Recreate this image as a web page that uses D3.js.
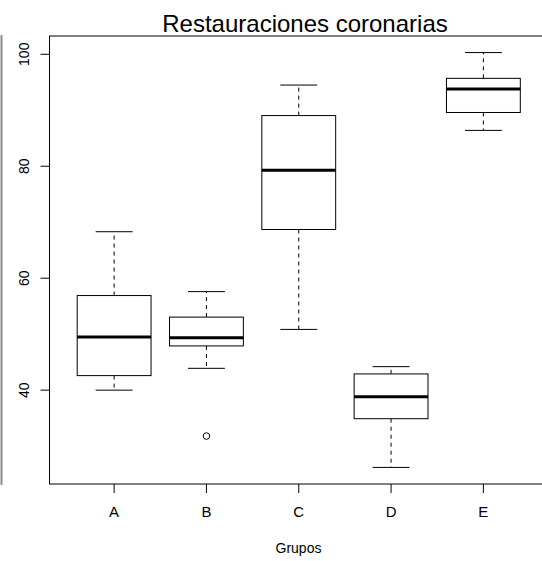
<!DOCTYPE html>
<html>
<head>
<meta charset="utf-8">
<script src="https://cdn.jsdelivr.net/npm/d3@7"></script>
<style>
  body { margin: 0; background: #fff; }
  svg { display: block; font-family: "Liberation Sans", Arial, sans-serif; }
</style>
</head>
<body>
<svg id="chart"></svg>
<script>
const groups = ["A", "B", "C", "D", "E"];
const lowerWhisker = [40.0, 43.9, 50.85, 26.2, 86.4];
const q1 = [42.6, 47.9, 68.7, 34.9, 89.6];
const median = [49.5, 49.35, 79.3, 38.8, 93.8];
const q3 = [56.9, 53.05, 89.05, 42.9, 95.7];
const upperWhisker = [68.3, 57.6, 94.5, 44.2, 100.3];
const outliers = [{ group: "B", value: 31.8 }];
const yTicks = [40, 60, 80, 100];

const width = 542;
const height = 561;
const svg = d3.select("#chart")
              .attr("width", width)
              .attr("height", height);

const plot = { left: 49.5, top: 36, bottom: 484, right: 548 };

// R style: data range padded by 4%
const allVals = lowerWhisker.concat(upperWhisker, outliers.map(d => d.value));
const lo = d3.min(allVals), hi = d3.max(allVals);
const pad = (hi - lo) * 0.04;

const y = d3.scaleLinear()
            .domain([lo - pad, hi + pad])
            .range([plot.bottom, plot.top]);

const x = d3.scaleLinear()
            .domain([0.3, groups.length + 0.7])
            .range([plot.left, plot.right]);

const step = x(2) - x(1);
const boxW = step * 0.8;

const rows = groups.map((g, i) => ({
  g, i,
  lw: lowerWhisker[i], q1: q1[i], med: median[i], q3: q3[i], uw: upperWhisker[i]
}));

// left grey edge (cropped window border)
svg.append("line")
   .attr("x1", 1.5).attr("x2", 1.5)
   .attr("y1", 35).attr("y2", 485)
   .attr("stroke", "#8a8a8a")
   .attr("stroke-width", 2);

// frame
svg.append("rect")
   .attr("x", plot.left)
   .attr("y", plot.top)
   .attr("width", plot.right - plot.left)
   .attr("height", plot.bottom - plot.top)
   .attr("fill", "none")
   .attr("stroke", "#000")
   .attr("stroke-width", 1);

const box = svg.selectAll("g.box")
               .data(rows)
               .enter()
               .append("g")
               .attr("class", "box")
               .attr("transform", d => `translate(${x(d.i + 1)},0)`);

// whiskers
box.append("line")
   .attr("x1", 0).attr("x2", 0)
   .attr("y1", d => y(d.q3)).attr("y2", d => y(d.uw))
   .attr("stroke", "#000").attr("stroke-dasharray", "4,4");
box.append("line")
   .attr("x1", 0).attr("x2", 0)
   .attr("y1", d => y(d.q1)).attr("y2", d => y(d.lw))
   .attr("stroke", "#000").attr("stroke-dasharray", "4,4");

// staples
box.selectAll("line.staple")
   .data(d => [d.lw, d.uw])
   .enter()
   .append("line")
   .attr("class", "staple")
   .attr("x1", -boxW / 4).attr("x2", boxW / 4)
   .attr("y1", v => y(v)).attr("y2", v => y(v))
   .attr("stroke", "#000");

box.append("rect")
   .attr("x", -boxW / 2)
   .attr("width", boxW)
   .attr("y", d => y(d.q3))
   .attr("height", d => y(d.q1) - y(d.q3))
   .attr("fill", "#fff")
   .attr("stroke", "#000");

box.append("line")
   .attr("x1", -boxW / 2).attr("x2", boxW / 2)
   .attr("y1", d => y(d.med)).attr("y2", d => y(d.med))
   .attr("stroke", "#000")
   .attr("stroke-width", 3);

svg.selectAll("circle.outlier")
   .data(outliers)
   .enter()
   .append("circle")
   .attr("class", "outlier")
   .attr("cx", d => x(groups.indexOf(d.group) + 1))
   .attr("cy", d => y(d.value))
   .attr("r", 3.3)
   .attr("fill", "none")
   .attr("stroke", "#000");

// y axis
const yAxis = svg.append("g");
yAxis.selectAll("line")
     .data(yTicks)
     .enter()
     .append("line")
     .attr("x1", plot.left - 9).attr("x2", plot.left)
     .attr("y1", d => y(d)).attr("y2", d => y(d))
     .attr("stroke", "#000");
yAxis.selectAll("text")
     .data(yTicks)
     .enter()
     .append("text")
     .attr("transform", d => `translate(28.5,${y(d)}) rotate(-90)`)
     .attr("text-anchor", "middle")
     .attr("font-size", 14)
     .text(d => d);

// x axis
const xAxis = svg.append("g");
xAxis.selectAll("line")
     .data(groups)
     .enter()
     .append("line")
     .attr("x1", (d, i) => x(i + 1)).attr("x2", (d, i) => x(i + 1))
     .attr("y1", plot.bottom).attr("y2", plot.bottom + 9)
     .attr("stroke", "#000");
xAxis.selectAll("text")
     .data(groups)
     .enter()
     .append("text")
     .attr("x", (d, i) => x(i + 1))
     .attr("y", 517)
     .attr("text-anchor", "middle")
     .attr("font-size", 15)
     .text(d => d);

svg.append("text")
   .attr("x", 298.5)
   .attr("y", 553)
   .attr("text-anchor", "middle")
   .attr("font-size", 14)
   .text("Grupos");

svg.append("text")
   .attr("x", 305)
   .attr("y", 32)
   .attr("text-anchor", "middle")
   .attr("font-size", 24)
   .text("Restauraciones coronarias");
</script>
</body>
</html>
